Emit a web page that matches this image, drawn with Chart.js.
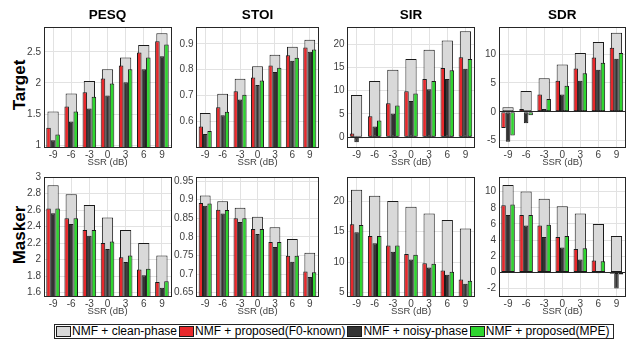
<!DOCTYPE html>
<html>
<head>
<meta charset="utf-8">
<script src="https://cdn.jsdelivr.net/npm/chart.js@4/dist/chart.umd.min.js"></script>
<style>
body { margin: 0; width: 636px; height: 340px; background: #fff; position: relative; overflow: hidden; font-family: "Liberation Sans", Arial, sans-serif; }
canvas { position: absolute; }
.rowlab { position: absolute; font-weight: bold; font-size: 17px; color: #000; white-space: nowrap; transform: translate(-50%, -50%) rotate(-90deg); }
#legend { position: absolute; left: 54px; top: 324px; height: 13px; border: 1px solid #262626; display: flex; align-items: center; padding: 0 1px; font-size: 12px; line-height: 13px; color: #000; white-space: nowrap; }
#legend .sw { display: inline-block; width: 13px; height: 9px; border: 1px solid #1a1a1a; margin-right: 1px; }
#legend .tx { margin-right: 2px; }
</style>
</head>
<body>
<div class="rowlab" style="left:20px; top:85px">Target</div>
<div class="rowlab" style="left:20px; top:235px">Masker</div>
<div id="legend"></div>
<script>
const ssrLabels = ['-9', '-6', '-3', '0', '3', '6', '9'];
const seriesNames = ['NMF + clean-phase', 'NMF + proposed(F0-known)', 'NMF + noisy-phase', 'NMF + proposed(MPE)'];
const seriesColors = ['#d9d9d9', '#e8282b', '#333333', '#2fd62f'];
const metricNames = ['PESQ', 'STOI', 'SIR', 'SDR'];

// target row
const pesqTargetClean = [1.54, 1.83, 2.03, 2.22, 2.41, 2.61, 2.80];
const pesqTargetF0 = [1.28, 1.62, 1.85, 2.07, 2.28, 2.49, 2.67];
const pesqTargetNoisy = [1.08, 1.38, 1.59, 1.80, 2.01, 2.22, 2.43];
const pesqTargetMpe = [1.17, 1.54, 1.78, 1.99, 2.22, 2.41, 2.62];

const stoiTargetClean = [0.632, 0.706, 0.764, 0.813, 0.857, 0.888, 0.916];
const stoiTargetF0 = [0.579, 0.654, 0.716, 0.769, 0.816, 0.856, 0.886];
const stoiTargetNoisy = [0.550, 0.623, 0.684, 0.740, 0.791, 0.834, 0.869];
const stoiTargetMpe = [0.562, 0.637, 0.702, 0.758, 0.807, 0.846, 0.878];

const sirTargetClean = [9.1, 12.1, 14.5, 16.8, 18.8, 20.8, 22.8];
const sirTargetF0 = [0.8, 4.5, 7.3, 9.9, 12.5, 14.9, 17.2];
const sirTargetNoisy = [-1.1, 2.3, 5.1, 7.8, 10.3, 12.5, 14.7];
const sirTargetMpe = [-0.2, 3.6, 6.8, 9.4, 12.1, 14.4, 16.8];

const sdrTargetClean = [0.8, 3.6, 5.8, 8.2, 10.2, 12.1, 13.7];
const sdrTargetF0 = [-2.8, 0.5, 3.0, 5.4, 7.5, 9.4, 11.1];
const sdrTargetNoisy = [-5.2, -2.0, 0.5, 3.0, 5.4, 7.3, 9.2];
const sdrTargetMpe = [-4.1, -0.6, 2.2, 4.5, 6.7, 8.5, 10.2];

// masker row
const pesqMaskerClean = [2.90, 2.79, 2.66, 2.51, 2.36, 2.20, 2.05];
const pesqMaskerF0 = [2.62, 2.50, 2.36, 2.20, 2.03, 1.88, 1.73];
const pesqMaskerNoisy = [2.56, 2.43, 2.29, 2.13, 1.97, 1.81, 1.66];
const pesqMaskerMpe = [2.62, 2.50, 2.36, 2.22, 2.05, 1.89, 1.74];

const stoiMaskerClean = [0.911, 0.896, 0.878, 0.854, 0.826, 0.794, 0.757];
const stoiMaskerF0 = [0.891, 0.873, 0.850, 0.821, 0.786, 0.749, 0.707];
const stoiMaskerNoisy = [0.884, 0.863, 0.840, 0.808, 0.773, 0.733, 0.692];
const stoiMaskerMpe = [0.890, 0.872, 0.850, 0.821, 0.786, 0.749, 0.705];

const sirMaskerClean = [21.9, 20.9, 20.05, 19.1, 18.0, 16.9, 15.5];
const sirMaskerF0 = [16.2, 14.3, 12.7, 11.3, 9.8, 8.6, 7.1];
const sirMaskerNoisy = [14.9, 13.1, 11.7, 10.4, 9.1, 7.9, 6.4];
const sirMaskerMpe = [16.1, 14.3, 12.7, 11.2, 9.7, 8.4, 6.9];

const sdrMaskerClean = [10.8, 10.0, 9.1, 8.2, 7.3, 6.0, 4.5];
const sdrMaskerF0 = [8.3, 7.1, 5.8, 4.4, 2.9, 1.5, -0.15];
const sdrMaskerNoisy = [7.1, 5.8, 4.4, 3.1, 1.6, -0.1, -1.96];
const sdrMaskerMpe = [8.4, 7.1, 5.9, 4.5, 3.0, 1.4, -0.25];

// y tick labels and limits
const pesqTargetTicks = [1, 1.5, 2, 2.5];
const stoiTargetTicks = [0.6, 0.7, 0.8, 0.9];
const sirTargetTicks = [0, 5, 10, 15, 20];
const sdrTargetTicks = [-5, 0, 5, 10];
const pesqMaskerTicks = [1.6, 1.8, 2, 2.2, 2.4, 2.6, 2.8, 3];
const stoiMaskerTicks = [0.65, 0.7, 0.75, 0.8, 0.85, 0.9, 0.95];
const sirMaskerTicks = [5, 10, 15, 20];
const sdrMaskerTicks = [-2, 0, 2, 4, 6, 8, 10];

const pesqTargetRange = [0.97, 2.9];
const stoiTargetRange = [0.5, 0.965];
const sirTargetRange = [-2.1, 23.7];
const sdrTargetRange = [-6.1, 14.7];
const pesqMaskerRange = [1.56, 3.0];
const stoiMaskerRange = [0.641, 0.961];
const sirMaskerRange = [4.4, 24];
const sdrMaskerRange = [-2.9, 11.8];

Chart.defaults.font.family = '"Liberation Sans", Arial, sans-serif';
Chart.defaults.color = '#404040';

// plot area edges of the four columns
const colLeft = [44, 196.5, 347.5, 499];
const colRight = [171, 318.5, 474.5, 625.5];

const boxFrame = {
  id: 'boxFrame',
  afterDatasetsDraw(chart) {
    const { ctx, chartArea: a } = chart;
    const l = Math.floor(a.left) + 0.5, t = Math.floor(a.top) + 0.5;
    const r = Math.floor(a.right) + 0.5, b = Math.floor(a.bottom) + 0.5;
    ctx.save();
    ctx.strokeStyle = '#262626';
    ctx.lineWidth = 1;
    ctx.strokeRect(l, t, r - l, b - t);
    ctx.restore();
  }
};

function makeDatasets(vals) {
  return vals.map((v, i) => ({
    label: seriesNames[i],
    data: v,
    backgroundColor: seriesColors[i],
    borderColor: '#1a1a1a',
    borderWidth: 1,
    borderSkipped: false,
    grouped: i !== 0,
    order: i === 0 ? 2 : 1,
    categoryPercentage: i === 0 ? 0.62 : 0.75,
    barPercentage: 1,
    clip: 0
  }));
}

function makePanel(col, row, vals, ticks, range) {
  const L = colLeft[col], R = colRight[col];
  const left = Math.floor(L) - 38;
  const width = Math.ceil(R) + 4 - left;
  const top = row === 0 ? 0 : 168;
  const height = row === 0 ? 168 : 149;

  const canvas = document.createElement('canvas');
  canvas.width = width;
  canvas.height = height;
  canvas.style.left = left + 'px';
  canvas.style.top = top + 'px';
  canvas.style.width = width + 'px';
  canvas.style.height = height + 'px';
  document.body.appendChild(canvas);

  new Chart(canvas, {
    type: 'bar',
    data: { labels: ssrLabels, datasets: makeDatasets(vals) },
    options: {
      responsive: false,
      animation: false,
      devicePixelRatio: 1,
      layout: { padding: { top: row === 0 ? 0 : 7.7, left: 0, right: width - (R - left), bottom: 0 } },
      plugins: {
        legend: { display: false },
        tooltip: { enabled: false },
        title: {
          display: row === 0,
          text: metricNames[col],
          fullSize: false,
          color: '#000',
          font: { size: 13.5, weight: 'bold' },
          padding: { top: 7, bottom: 3.8 }
        }
      },
      scales: {
        x: {
          offset: true,
          grid: { offset: false, color: '#e2e2e2', drawTicks: false },
          border: { display: false },
          ticks: { font: { size: 10 }, padding: 2, maxRotation: 0 },
          title: { display: true, text: 'SSR (dB)', font: { size: 9.5 }, color: '#404040', padding: 0 },
          afterFit: s => { s.height = 21; }
        },
        y: {
          min: range[0],
          max: range[1],
          beginAtZero: false,
          bounds: 'data',
          grid: {
            drawTicks: false,
            color: c => (c.tick && c.tick.value === 0 ? '#262626' : '#e2e2e2')
          },
          border: { display: false },
          ticks: { font: { size: 10 }, padding: 3, callback: v => String(v) },
          afterBuildTicks: s => { s.ticks = ticks.map(v => ({ value: v })); },
          afterFit: s => { s.width = L - left; }
        }
      }
    },
    plugins: [boxFrame]
  });
}

makePanel(0, 0, [pesqTargetClean, pesqTargetF0, pesqTargetNoisy, pesqTargetMpe], pesqTargetTicks, pesqTargetRange);
makePanel(1, 0, [stoiTargetClean, stoiTargetF0, stoiTargetNoisy, stoiTargetMpe], stoiTargetTicks, stoiTargetRange);
makePanel(2, 0, [sirTargetClean, sirTargetF0, sirTargetNoisy, sirTargetMpe], sirTargetTicks, sirTargetRange);
makePanel(3, 0, [sdrTargetClean, sdrTargetF0, sdrTargetNoisy, sdrTargetMpe], sdrTargetTicks, sdrTargetRange);
makePanel(0, 1, [pesqMaskerClean, pesqMaskerF0, pesqMaskerNoisy, pesqMaskerMpe], pesqMaskerTicks, pesqMaskerRange);
makePanel(1, 1, [stoiMaskerClean, stoiMaskerF0, stoiMaskerNoisy, stoiMaskerMpe], stoiMaskerTicks, stoiMaskerRange);
makePanel(2, 1, [sirMaskerClean, sirMaskerF0, sirMaskerNoisy, sirMaskerMpe], sirMaskerTicks, sirMaskerRange);
makePanel(3, 1, [sdrMaskerClean, sdrMaskerF0, sdrMaskerNoisy, sdrMaskerMpe], sdrMaskerTicks, sdrMaskerRange);

// shared legend under the panels
const legend = document.getElementById('legend');
seriesNames.forEach((name, i) => {
  const sw = document.createElement('span');
  sw.className = 'sw';
  sw.style.background = seriesColors[i];
  const tx = document.createElement('span');
  tx.className = 'tx';
  tx.textContent = name;
  legend.appendChild(sw);
  legend.appendChild(tx);
});
</script>
</body>
</html>
